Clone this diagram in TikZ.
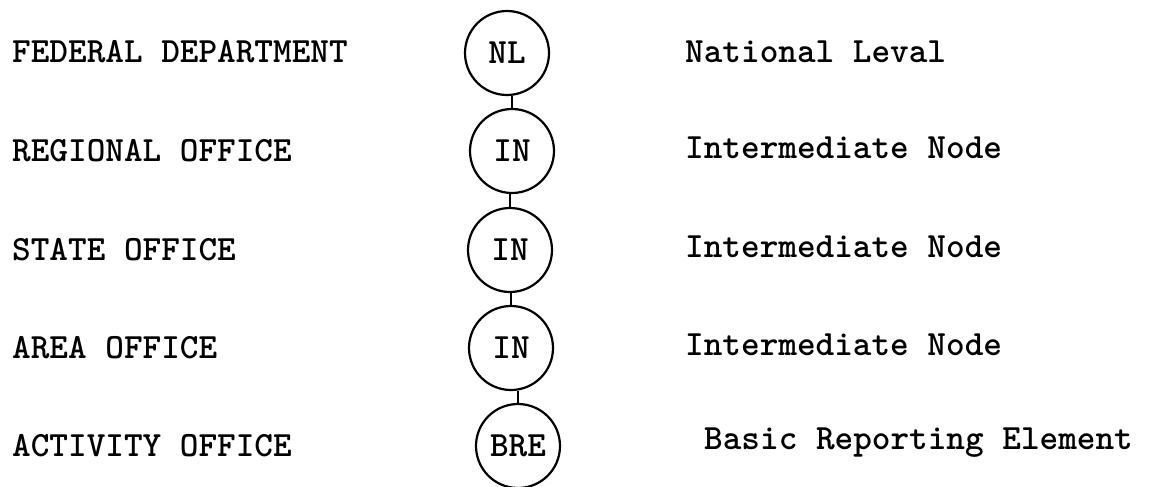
\documentclass[tikz,border=0pt]{standalone}
\usepackage{fontspec}
\begin{document}
\begin{tikzpicture}[x=1pt, y=-1pt,
  typed/.style={font=\ttfamily\bfseries\fontsize{35.5}{35.5}\selectfont},
  lvl/.style={circle, draw, line width=2.2pt, minimum size=84pt, inner sep=0pt, typed},
  office/.style={anchor=base west, inner sep=0pt, typed},
  role/.style={anchor=base west, inner sep=0pt, typed},
  link/.style={line width=2.2pt}]
\useasboundingbox (0,0) rectangle (1151,487);
\fill[white] (0,0) rectangle (1151,487);

% hierarchy levels
\node[lvl] (nl)  at (507,53)  {NL};
\node[lvl] (in1) at (512,151) {IN};
\node[lvl] (in2) at (510,250) {IN};
\node[lvl] (in3) at (511,348) {IN};
\node[lvl] (bre) at (518,446) {BRE};

% short vertical ties between successive levels
\draw[link] (in1.north) -- (in1.north |- nl.south);
\draw[link] (in2.north) -- (in2.north |- in1.south);
\draw[link] (in3.north) -- (in3.north |- in2.south);
\draw[link] (bre.north) -- (bre.north |- in3.south);

% organisational units
\node[office] (o1) at (12,63)  {FEDERAL DEPARTMENT};
\node[office] (o2) at (12,161) {REGIONAL OFFICE};
\node[office] (o3) at (12,260) {STATE OFFICE};
\node[office] (o4) at (12,358) {AREA OFFICE};
\node[office] (o5) at (12,456) {ACTIVITY OFFICE};

% level descriptions
\node[role] (r1) at (685,63)  {National Leval};
\node[role] (r2) at (685,158) {Intermediate Node};
\node[role] (r3) at (685,257) {Intermediate Node};
\node[role] (r4) at (685,355) {Intermediate Node};
\node[role] (r5) at (704,449) {Basic Reporting Element};
\end{tikzpicture}
\end{document}
